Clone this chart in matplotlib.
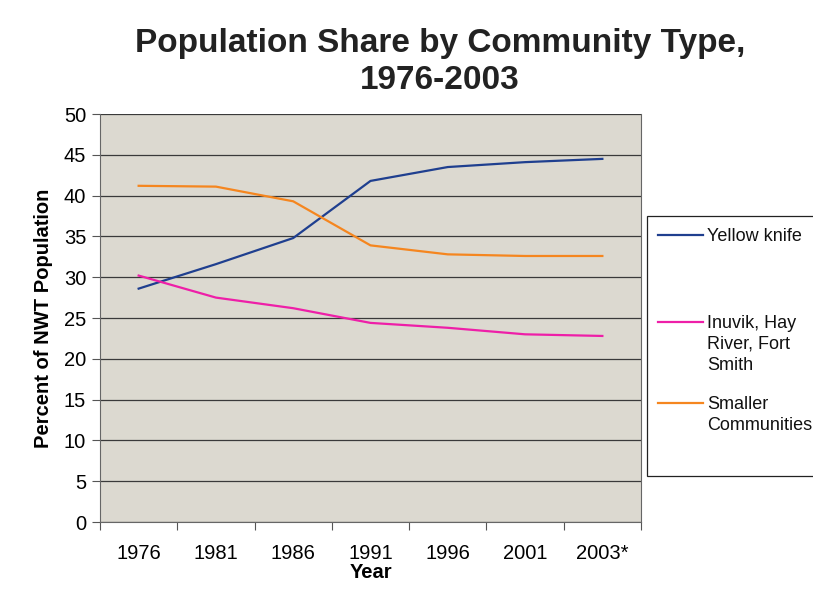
import matplotlib.pyplot as plt
from matplotlib.patches import Rectangle
from matplotlib.lines import Line2D

plt.rcParams['font.family'] = ['Liberation Sans', 'DejaVu Sans']

# data
years = ["1976", "1981", "1986", "1991", "1996", "2001", "2003*"]
yellowknife = [28.6, 31.6, 34.8, 41.8, 43.5, 44.1, 44.5]
regional = [30.2, 27.5, 26.2, 24.4, 23.8, 23.0, 22.8]
smaller = [41.2, 41.1, 39.3, 33.9, 32.8, 32.6, 32.6]

names = ["Yellow knife", "Inuvik, Hay\nRiver, Fort\nSmith", "Smaller\nCommunities"]
colors = ["#1f3f8f", "#ee1fa8", "#f5861f"]

W, H = 813, 591
fig = plt.figure(figsize=(W / 100, H / 100), dpi=100)
ax = fig.add_axes([100 / W, 1 - 522 / H, 541 / W, 408 / H])
ax.set_facecolor("#dcd9d0")

x = [i + 0.5 for i in range(len(years))]
for vals, c in zip([yellowknife, regional, smaller], colors):
    ax.plot(x, vals, color=c, lw=1.6)

ax.set_xlim(0, len(years))
ax.set_ylim(0, 50)
ax.set_yticks(range(0, 51, 5))
ax.tick_params(axis="y", labelsize=14.5, length=6, color="#555555", pad=4)
ax.set_xticks(range(len(years) + 1))
ax.set_xticklabels([])
ax.set_xticks(x, minor=True)
ax.set_xticklabels(years, minor=True, fontsize=14.5)
ax.tick_params(axis="x", which="major", length=6, color="#555555")
ax.tick_params(axis="x", which="minor", length=0, pad=16)
ax.grid(axis="y", color="#3a3a3a", lw=0.9)
ax.set_axisbelow(True)
for s in ax.spines.values():
    s.set_color("#666666")
ax.spines["top"].set_visible(False)

ax.set_xlabel("Year", fontsize=14.5, fontweight="bold", labelpad=0)
ax.set_ylabel("Percent of NWT Population", fontsize=14.5, fontweight="bold", labelpad=8)

fig.text(440 / W, 1 - 62 / H, "Population Share by Community Type,\n1976-2003",
         ha="center", va="center", fontsize=24, fontweight="bold", color="#222222",
         linespacing=1.22)

# legend box drawn by hand (first text line aligned with the handle, as in Excel)
fig.add_artist(Rectangle((647 / W, 1 - 476 / H), 200 / W, 260 / H, transform=fig.transFigure,
                         facecolor="white", edgecolor="#222222", lw=0.9, clip_on=False))
entry_y = [235, 322, 403]
for name, c, yy in zip(names, colors, entry_y):
    fig.add_artist(Line2D([658 / W, 703 / W], [1 - yy / H] * 2, transform=fig.transFigure,
                          color=c, lw=1.6))
    fig.text(707 / W, 1 - (yy - 7) / H, name, ha="left", va="top", fontsize=13,
             color="#111111", linespacing=1.3)

fig.savefig("out.png", dpi=100)
